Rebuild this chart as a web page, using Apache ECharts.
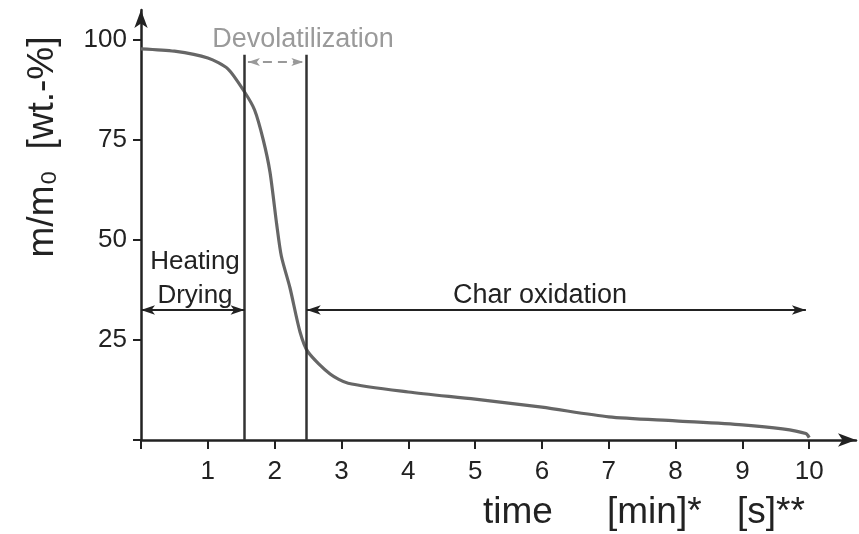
<!DOCTYPE html>
<html>
<head>
<meta charset="utf-8">
<script src="https://cdn.jsdelivr.net/npm/echarts@6/dist/echarts.min.js"></script>
<style>
  html, body { margin: 0; padding: 0; background: #fff; }
  #chart { width: 859px; height: 534px; }
</style>
</head>
<body>
<div id="chart"></div>
<script>
  // mass loss curve
  var timeVals = [0, 0.5, 1.0, 1.3, 1.55, 1.7, 1.83, 1.93, 2.03, 2.1, 2.23, 2.38, 2.5, 2.83, 3.1, 4, 5, 6, 7, 8, 9, 9.6, 9.95, 10];
  var massVals = [97.8, 97.2, 95.5, 92.8, 87, 82.5, 75, 67, 54, 46, 38, 27, 22, 16.5, 14.2, 12, 10.2, 8.2, 5.8, 4.8, 3.8, 2.8, 1.6, 0.6];

  var xTicks = [0, 1, 2, 3, 4, 5, 6, 7, 8, 9, 10];
  var xLabels = [1, 2, 3, 4, 5, 6, 7, 8, 9, 10];
  var yTicks = [0, 25, 50, 75, 100];
  var yLabels = [25, 50, 75, 100];

  // phase boundaries [min] and arrow levels [wt.-%]
  var heatEnd = 1.55;
  var devolEnd = 2.48;
  var boundTop = 96.3;
  var devolLevel = 94.5;
  var phaseLevel = 32.5;
  var charEnd = 9.95;

  var curve = [];
  for (var i = 0; i < timeVals.length; i++) {
    curve.push([timeVals[i], massVals[i]]);
  }

  var font = 'Liberation Sans, Arial, Helvetica, sans-serif';
  var ink = '#222';

  var chart = echarts.init(document.getElementById('chart'));
  chart.setOption({
    animation: false,
    grid: { left: 141, right: 3, top: 10, bottom: 94 },
    xAxis: {
      type: 'value',
      min: 0,
      max: 10.7,
      splitLine: { show: false },
      axisLine: { lineStyle: { color: ink, width: 2.5 }, symbol: ['none', 'arrow'], symbolSize: [10, 18] },
      axisTick: { customValues: xTicks, length: 9, lineStyle: { color: ink, width: 2 } },
      axisLabel: { customValues: xLabels, margin: 19, fontSize: 26, color: ink, fontFamily: font }
    },
    yAxis: {
      type: 'value',
      min: 0,
      max: 107.5,
      splitLine: { show: false },
      axisLine: { lineStyle: { color: ink, width: 2.5 }, symbol: ['none', 'arrow'], symbolSize: [10, 18] },
      axisTick: { customValues: yTicks, length: 8, lineStyle: { color: ink, width: 2 } },
      axisLabel: { customValues: yLabels, margin: 14, fontSize: 26, color: ink, fontFamily: font }
    },
    series: [
      {
        type: 'line',
        data: curve,
        smooth: 0.25,
        showSymbol: false,
        lineStyle: { color: '#666', width: 3.2 },
        z: 3
      },
      {
        type: 'line',
        data: [],
        markLine: {
          silent: true,
          label: { show: false },
          symbol: ['none', 'none'],
          lineStyle: { type: 'solid', color: '#333', width: 2.5 },
          data: [
            [{ coord: [heatEnd, 0] }, { coord: [heatEnd, boundTop] }],
            [{ coord: [devolEnd, 0] }, { coord: [devolEnd, boundTop] }]
          ]
        }
      },
      {
        type: 'line',
        data: [],
        markLine: {
          silent: true,
          label: { show: false },
          symbol: ['arrow', 'arrow'],
          symbolSize: [7, 14],
          lineStyle: { type: 'solid', color: '#222', width: 2.2 },
          data: [
            [{ coord: [0, phaseLevel] }, { coord: [heatEnd, phaseLevel] }],
            [{ coord: [devolEnd, phaseLevel] }, { coord: [charEnd, phaseLevel] }]
          ]
        }
      },
      {
        type: 'line',
        data: [],
        markLine: {
          silent: true,
          label: { show: false },
          symbol: ['arrow', 'arrow'],
          symbolSize: [6, 12],
          lineStyle: { type: [9, 6], color: '#999', width: 2.2 },
          data: [
            [{ coord: [heatEnd + 0.05, devolLevel] }, { coord: [devolEnd - 0.05, devolLevel] }]
          ]
        }
      }
    ],
    graphic: [
      {
        type: 'text', x: 43, y: 147, rotation: Math.PI / 2,
        style: { text: 'm/m₀  [wt.-%]', fontSize: 37, fill: ink, fontFamily: font, align: 'center', verticalAlign: 'middle' }
      },
      {
        type: 'text', x: 303, y: 40,
        style: { text: 'Devolatilization', fontSize: 27, fill: '#9a9a9a', fontFamily: font, align: 'center', verticalAlign: 'middle' }
      },
      {
        type: 'text', x: 195, y: 279,
        style: { text: 'Heating\nDrying', fontSize: 26, lineHeight: 34, fill: ink, fontFamily: font, align: 'center', verticalAlign: 'middle' }
      },
      {
        type: 'text', x: 540, y: 296,
        style: { text: 'Char oxidation', fontSize: 27, fill: ink, fontFamily: font, align: 'center', verticalAlign: 'middle' }
      },
      {
        type: 'text', x: 483, y: 513,
        style: { text: 'time', fontSize: 37, fill: ink, fontFamily: font, align: 'left', verticalAlign: 'middle' }
      },
      {
        type: 'text', x: 607, y: 513,
        style: { text: '[min]*', fontSize: 37, fill: ink, fontFamily: font, align: 'left', verticalAlign: 'middle' }
      },
      {
        type: 'text', x: 737, y: 513,
        style: { text: '[s]**', fontSize: 37, fill: ink, fontFamily: font, align: 'left', verticalAlign: 'middle' }
      }
    ]
  });
</script>
</body>
</html>
